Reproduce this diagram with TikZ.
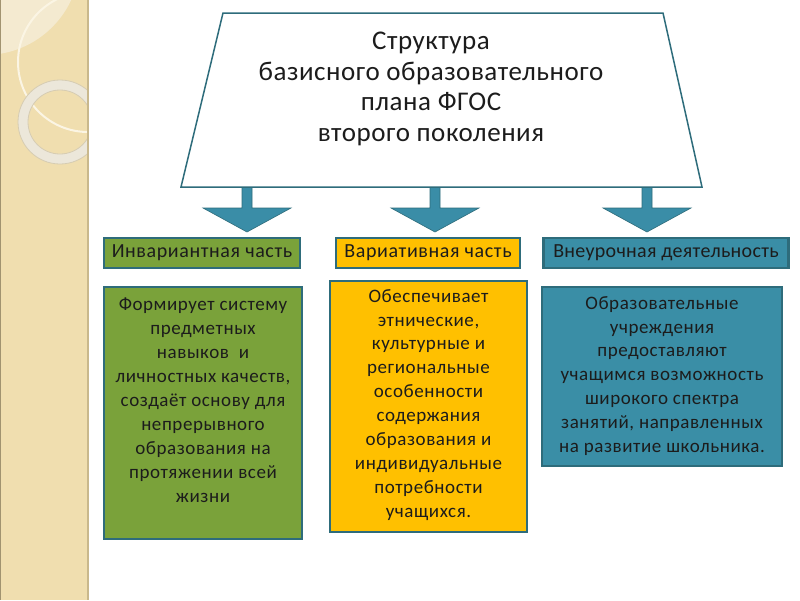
\documentclass[tikz,border=0pt]{standalone}
\usepackage{fontspec}
\setmainfont{Carlito}
\definecolor{strip}{HTML}{F0DEAF}
\definecolor{stripLight}{HTML}{F4EAD0}
\definecolor{stripEdge}{HTML}{C9B88C}
\definecolor{cream}{HTML}{FBF5E4}
\definecolor{ringFill}{HTML}{ECE7DA}
\definecolor{ringEdge}{HTML}{D6CCB2}
\definecolor{frame}{HTML}{2E6C7B}
\definecolor{arrowFill}{HTML}{3A8DA7}
\definecolor{greenFill}{HTML}{7AA23A}
\definecolor{yellowFill}{HTML}{FFC000}
\definecolor{tealFill}{HTML}{3A8EA6}
\definecolor{ink}{HTML}{1C1C1C}
\tikzset{
  trapbox/.style={draw=frame, line width=1.5pt, fill=white},
  blockarrow/.style={fill=arrowFill, draw=frame, line width=0.6pt},
  lblbox/.style={draw=frame, line width=2.5pt, inner sep=0pt, text=ink,
    font=\fontsize{20}{22}\selectfont\addfontfeatures{LetterSpace=3}},
  descbox/.style={draw=frame, line width=2.5pt, inner sep=0pt},
  desctext/.style={anchor=north, align=center, inner sep=0pt, text=ink,
    font=\fontsize{19}{23.9}\selectfont\addfontfeatures{LetterSpace=3}},
  titletext/.style={align=center, inner sep=0pt, text=ink,
    font=\fontsize{27}{30.5}\selectfont\addfontfeatures{LetterSpace=2}}
}
\begin{document}
\begin{tikzpicture}[x=1pt,y=-1pt]
\useasboundingbox (0,0) rectangle (800,600);
\fill[white] (0,0) rectangle (800,600);
% decorative strip
\fill[strip] (0,0) rectangle (88,600);
\begin{scope}
  \clip (0,0) rectangle (88,600);
  \fill[stripLight] (-15,-40) circle (95pt);
  \draw[cream, line width=2pt] (88,62) circle (70pt);
  \draw[ringEdge, fill=ringFill, even odd rule, line width=0.8pt] (60,122) circle (42pt) (60,122) circle (32pt);
\end{scope}
\draw[stripEdge, line width=1.2pt] (88,0) -- (88,600);
\draw[stripEdge!80!black, line width=1pt] (0.5,0) -- (0.5,600);

% title trapezoid
\coordinate (tl) at (223,13);
\coordinate (tr) at (663,13);
\coordinate (br) at (702,187);
\coordinate (bl) at (181,187);
\draw[trapbox] (tl) -- (tr) -- (br) -- (bl) -- cycle;
\node[titletext] (title) at (431,89) {Структура\\базисного образовательного\\плана ФГОС\\второго поколения};

% label boxes
\node[lblbox, fill=greenFill, minimum width=196pt, minimum height=30pt] (l1) at (202,253) {Инвариантная часть};
\node[lblbox, fill=yellowFill, minimum width=184pt, minimum height=30pt] (l2) at (428,253) {Вариативная часть};
\node[lblbox, fill=tealFill, minimum width=245pt, minimum height=30pt,
  font=\fontsize{20}{22}\selectfont\addfontfeatures{LetterSpace=1.5}] (l3) at (666,253) {Внеурочная деятельность};

% block arrows
\foreach \cx/\n in {247/1,435/2,647/3}{
  \draw[blockarrow] (\cx-5,187.5) -- (\cx+5,187.5) -- (\cx+5,208) -- (\cx+44,208)
    -- (\cx,232) -- (\cx-44,208) -- (\cx-5,208) -- cycle;
}

% description boxes
\node[descbox, fill=greenFill, minimum width=198pt, minimum height=252pt] (d1) at (203,413) {};
\node[descbox, fill=yellowFill, minimum width=197pt, minimum height=251pt] (d2) at (428.5,406.5) {};
\node[descbox, fill=tealFill, minimum width=240pt, minimum height=179pt] (d3) at (662,376.5) {};

\node[desctext] (t1) at (203,298) {Формирует систему\\предметных\\навыков\ \ и\\личностных качеств,\\создаёт основу для\\непрерывного\\образования на\\протяжении всей\\жизни};
\node[desctext] (t2) at (428.5,289) {Обеспечивает\\этнические,\\культурные и\\региональные\\особенности\\содержания\\образования и\\индивидуальные\\потребности\\учащихся.};
\node[desctext] (t3) at (662,296) {Образовательные\\учреждения\\предоставляют\\учащимся возможность\\широкого спектра\\занятий, направленных\\на развитие школьника.};
\end{tikzpicture}
\end{document}
